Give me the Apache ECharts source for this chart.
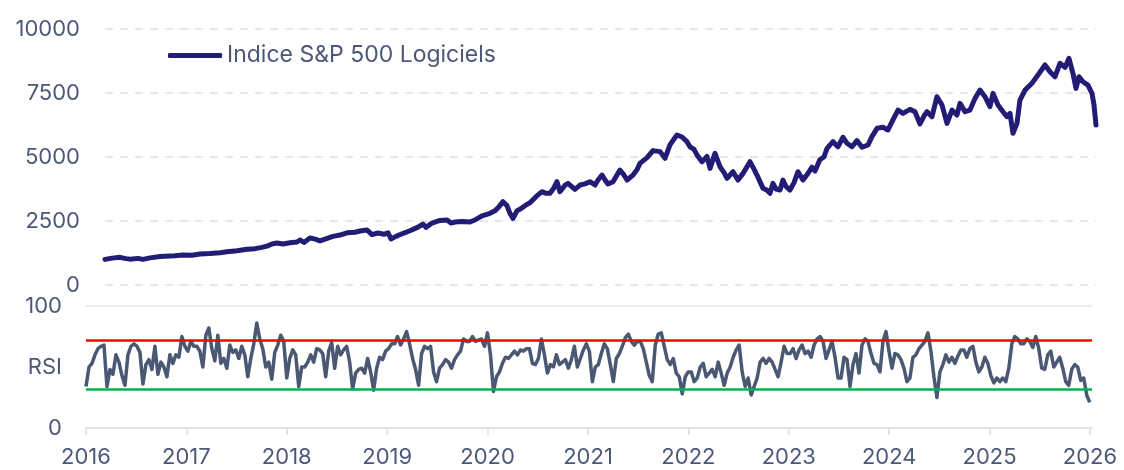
<!DOCTYPE html>
<html>
<head>
<meta charset="utf-8">
<script src="https://cdn.jsdelivr.net/npm/echarts@6/dist/echarts.min.js"></script>
<style>
  html, body { margin: 0; padding: 0; background: #fff; }
  #chart { width: 1124px; height: 470px; }
</style>
</head>
<body>
<div id="chart"></div>
<script>
// Indice S&P 500 Logiciels (decimal years / index level)
const indexYears = [
  2016.120, 2016.190, 2016.271, 2016.331, 2016.372, 2016.452, 2016.502, 2016.573, 2016.673, 2016.824,
  2016.905, 2016.995, 2017.076, 2017.176, 2017.277, 2017.347, 2017.448, 2017.549, 2017.629, 2017.699,
  2017.750, 2017.800, 2017.850, 2017.911, 2017.981, 2018.052, 2018.082, 2018.122, 2018.182, 2018.243,
  2018.283, 2018.363, 2018.414, 2018.484, 2018.555, 2018.635, 2018.685, 2018.756, 2018.806, 2018.866,
  2018.927, 2018.967, 2018.997, 2019.048, 2019.108, 2019.188, 2019.269, 2019.319, 2019.349, 2019.410,
  2019.490, 2019.561, 2019.601, 2019.641, 2019.712, 2019.792, 2019.852, 2019.913, 2019.993, 2020.044,
  2020.084, 2020.124, 2020.164, 2020.194, 2020.225, 2020.265, 2020.295, 2020.345, 2020.396, 2020.456,
  2020.516, 2020.557, 2020.597, 2020.637, 2020.667, 2020.697, 2020.748, 2020.778, 2020.848, 2020.899,
  2020.949, 2020.999, 2021.050, 2021.080, 2021.120, 2021.160, 2021.180, 2021.231, 2021.271, 2021.301,
  2021.341, 2021.372, 2021.432, 2021.472, 2021.502, 2021.573, 2021.633, 2021.704, 2021.754, 2021.804,
  2021.844, 2021.875, 2021.925, 2021.975, 2022.005, 2022.046, 2022.076, 2022.126, 2022.176, 2022.207,
  2022.257, 2022.307, 2022.347, 2022.378, 2022.438, 2022.488, 2022.539, 2022.609, 2022.639, 2022.679,
  2022.740, 2022.780, 2022.810, 2022.840, 2022.871, 2022.911, 2022.941, 2022.971, 2023.011, 2023.052,
  2023.092, 2023.142, 2023.192, 2023.233, 2023.263, 2023.313, 2023.353, 2023.384, 2023.444, 2023.494,
  2023.545, 2023.585, 2023.635, 2023.685, 2023.736, 2023.796, 2023.836, 2023.887, 2023.947, 2023.997,
  2024.038, 2024.098, 2024.148, 2024.219, 2024.269, 2024.319, 2024.359, 2024.390, 2024.440, 2024.490,
  2024.541, 2024.591, 2024.641, 2024.691, 2024.722, 2024.772, 2024.822, 2024.873, 2024.923, 2024.973,
  2025.023, 2025.054, 2025.104, 2025.154, 2025.194, 2025.225, 2025.255, 2025.295, 2025.325, 2025.376,
  2025.446, 2025.506, 2025.577, 2025.627, 2025.677, 2025.728, 2025.778, 2025.818, 2025.858, 2025.889,
  2025.919, 2025.959, 2026.009, 2026.050, 2026.070, 2026.090
];
const indexValues = [
  1000, 1050, 1080, 1030, 1010, 1040, 1000, 1060, 1110, 1140,
  1170, 1160, 1210, 1230, 1260, 1300, 1340, 1400, 1420, 1470,
  1520, 1600, 1640, 1600, 1650, 1680, 1760, 1660, 1840, 1780,
  1720, 1830, 1900, 1950, 2040, 2060, 2110, 2150, 1970, 2030,
  1980, 2040, 1800, 1900, 2000, 2120, 2260, 2380, 2250, 2420,
  2520, 2540, 2420, 2460, 2480, 2460, 2560, 2700, 2800, 2900,
  3060, 3255, 3100, 2800, 2600, 2900, 2955, 3100, 3215, 3450,
  3645, 3580, 3580, 3800, 4035, 3645, 3900, 3970, 3735, 3905,
  3950, 4035, 3905, 4100, 4295, 4050, 3945, 4035, 4300, 4490,
  4300, 4100, 4295, 4500, 4750, 4975, 5250, 5210, 4950, 5470,
  5700, 5860, 5780, 5600, 5400, 5300, 5080, 4815, 5020, 4555,
  5145, 4620, 4400, 4165, 4425, 4100, 4360, 4815, 4600, 4295,
  3775, 3700, 3580, 3970, 3750, 3710, 4100, 3850, 3710, 4000,
  4425, 4100, 4360, 4600, 4450, 4900, 5000, 5340, 5600, 5400,
  5770, 5535, 5400, 5640, 5380, 5470, 5795, 6120, 6160, 6055,
  6380, 6835, 6705, 6860, 6770, 6290, 6600, 6770, 6575, 7355,
  7030, 6315, 6835, 6640, 7095, 6770, 6835, 7290, 7615, 7355,
  6965, 7485, 7030, 6770, 6575, 6705, 5925, 6315, 7225, 7615,
  7880, 8200, 8595, 8330, 8135, 8660, 8500, 8855, 8270, 7680,
  8135, 7940, 7810, 7485, 7030, 6250
];

// RSI, one reading every ~10.9 days from the start of 2016
const rsiStartYear = 2016;
const rsiStepDays = 10.9;
const rsiValues = [
  34, 50, 53, 60, 65, 67, 68, 34, 48, 44, 60, 54, 43, 35, 60, 67, 69, 67, 62, 36,
  52, 56, 48, 67, 44, 54, 50, 42, 60, 53, 60, 58, 75, 67, 63, 71, 67, 67, 63, 50,
  76, 82, 65, 55, 76, 53, 57, 49, 68, 62, 64, 57, 67, 60, 42, 57, 69, 86, 73, 65,
  50, 54, 40, 62, 68, 76, 71, 41, 57, 64, 60, 34, 50, 50, 54, 60, 54, 65, 64, 61,
  42, 63, 70, 49,
  67, 60, 64, 67, 54, 32, 45, 48, 49, 45, 57, 46, 31, 49, 58, 56, 63, 65, 69, 69,
  75, 68, 73, 79, 69, 57, 48, 35, 61, 67, 65, 67, 46, 38, 49, 52, 56, 54, 49, 56,
  60, 63, 73, 71, 71, 75, 71, 72, 73, 67, 78, 60, 30, 42, 46, 53, 58, 57, 60, 63,
  60, 64, 63, 65, 65, 53, 52, 57, 73, 60, 45, 52, 50, 60, 52, 54, 56, 49, 56, 67,
  50, 57, 64, 69,
  63, 38, 50, 52, 61, 69, 65, 52, 38, 57, 61, 67, 74, 77, 71, 68, 71, 71, 65, 54,
  43, 38, 68, 77, 78, 67, 56, 52, 57, 45, 42, 28, 42, 46, 46, 38, 41, 50, 53, 42,
  45, 48, 42, 54, 45, 35, 45, 50, 58, 64, 68, 46, 34, 41, 27, 34, 41, 54, 57, 53,
  57, 54, 48, 42, 54, 67, 61, 61, 65, 57, 64, 68, 61, 63, 58, 68, 73, 75, 71, 57,
  64, 71, 58, 41,
  41, 58, 56, 34, 52, 61, 45, 68, 73, 71, 61, 53, 52, 46, 71, 79, 63, 49, 61, 60,
  56, 49, 38, 41, 58, 60, 65, 68, 71, 78, 63, 42, 25, 46, 52, 60, 54, 58, 53, 59,
  64, 64, 58, 65, 67, 54, 46, 50, 58, 53, 43, 37, 41, 38, 41, 38, 49, 69, 75, 73,
  69, 69, 73, 71, 66, 75, 65, 49, 48, 60, 63, 50, 54, 58, 49, 38, 35, 48, 52, 50,
  39, 41, 27, 21
];
const rsiOverbought = 72;
const rsiOversold = 32;

const indexData = indexYears.map((y, i) => [y, indexValues[i]]);
const rsiData = rsiValues.map((v, i) => [rsiStartYear + i * rsiStepDays / 365.25, v]);

const labelColor = '#4b5878';
const font = 'Inter';

const chart = echarts.init(document.getElementById('chart'));
chart.setOption({
  animation: false,
  backgroundColor: '#fff',
  textStyle: { fontFamily: font },
  legend: {
    data: ['Indice S&P 500 Logiciels'],
    icon: 'roundRect',
    left: 168,
    top: 44,
    padding: 0,
    itemWidth: 54,
    itemHeight: 5,
    itemGap: 4,
    textStyle: { color: labelColor, fontSize: 23, fontFamily: font }
  },
  grid: [
    { left: 105, right: 28, top: 29, bottom: 185 },
    { left: 86, right: 32, top: 306, bottom: 42 }
  ],
  xAxis: [
    { type: 'value', gridIndex: 0, min: 2016.12, max: 2026.09, show: false },
    {
      type: 'value', gridIndex: 1, min: 2016, max: 2026.02, interval: 1,
      axisLine: { lineStyle: { color: '#e3e3e3', width: 2 } },
      axisTick: { show: true, length: 7, lineStyle: { color: '#e3e3e3', width: 2 } },
      axisLabel: {
        color: labelColor, fontSize: 22, margin: 18, fontFamily: font,
        formatter: v => String(v), showMaxLabel: false
      },
      splitLine: { show: false }
    }
  ],
  yAxis: [
    {
      type: 'value', gridIndex: 0, min: 0, max: 10000, interval: 2500,
      axisLine: { show: false }, axisTick: { show: false },
      axisLabel: { color: labelColor, fontSize: 22, margin: 25, fontFamily: font, formatter: v => String(v) },
      splitLine: { lineStyle: { color: '#e8e8e8', width: 2, type: [8, 7] } }
    },
    {
      type: 'value', gridIndex: 1, min: 0, max: 100, interval: 50,
      axisLine: { show: false }, axisTick: { show: false },
      axisLabel: {
        color: labelColor, fontSize: 22, margin: 24, fontFamily: font,
        formatter: v => (v === 50 ? 'RSI' : String(v))
      },
      splitLine: { lineStyle: { color: ['rgba(0,0,0,0)', 'rgba(0,0,0,0)', '#ebebeb'], width: 2 } }
    }
  ],
  series: [
    {
      name: 'Indice S&P 500 Logiciels',
      type: 'line',
      xAxisIndex: 0, yAxisIndex: 0,
      data: indexData,
      symbol: 'none',
      lineStyle: { color: '#221c74', width: 5, cap: 'round', join: 'round' },
      itemStyle: { color: '#221c74' }
    },
    {
      name: 'RSI',
      type: 'line',
      xAxisIndex: 1, yAxisIndex: 1,
      data: rsiData,
      symbol: 'none',
      lineStyle: { color: '#4a5874', width: 3.5, join: 'round' },
      markLine: {
        silent: true,
        symbol: 'none',
        label: { show: false },
        data: [
          { yAxis: rsiOverbought, lineStyle: { color: '#ff0000', width: 2.5, type: 'solid' } },
          { yAxis: rsiOversold, lineStyle: { color: '#00b050', width: 2.5, type: 'solid' } }
        ]
      }
    }
  ]
});
</script>
</body>
</html>
